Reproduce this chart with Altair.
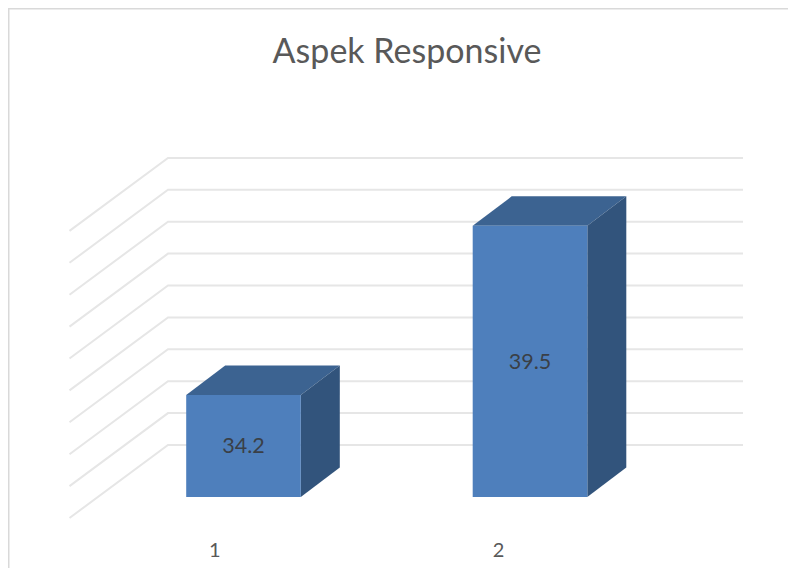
import altair as alt
import pandas as pd

TITLE = "Aspek Responsive"
categories = [1, 2]
values = [34.2, 39.5]
category_label_pos = [0.9, 1.89]
grid_values = [31, 32, 33, 34, 35, 36, 37, 38, 39, 40]
base_value = 31

# scale set-up: one category = 286.5 px, one value unit = 31.9 px
W, H = 780, 560
PX_X, PX_Y = 286.5, 31.9
x_min = 1 - 235.5 / PX_X
x_max = x_min + W / PX_X
y_min = base_value - (H - 489) / PX_Y
y_max = y_min + H / PX_Y
half = 0.2              # half bar width, category units
depth_x, depth_y = 39 / PX_X, 29.5 / PX_Y   # bar depth
wall_left, wall_right, floor_left = 0.7365, 2.7435, 0.3927
wall_up, floor_down = 52 / PX_Y, 21 / PX_Y
label_y = base_value - 53.5 / PX_Y
value_label_nudge = -1.5 / PX_Y

x_s = alt.Scale(domain=[x_min, x_max], range=[0, W], nice=False, zero=False)
y_s = alt.Scale(domain=[y_min, y_max], range=[H, 0], nice=False, zero=False)
X = alt.X("x:Q", scale=x_s, axis=None)
Y = alt.Y("y:Q", scale=y_s, axis=None)

grid_rows = []
for v in grid_values:
    grid_rows += [
        {"g": v, "o": 0, "x": floor_left, "y": v - floor_down},
        {"g": v, "o": 1, "x": wall_left, "y": v + wall_up},
        {"g": v, "o": 2, "x": wall_right, "y": v + wall_up},
    ]
grid = alt.Chart(pd.DataFrame(grid_rows)).mark_line(
    color="#e6e6e6", strokeWidth=2
).encode(x=X, y=Y, detail="g:N", order="o:Q")

border_left = alt.Chart(pd.DataFrame({"x": [x_min, x_min], "y": [y_min, y_max], "o": [0, 1]})).mark_line(
    color="#d9d9d9", strokeWidth=3).encode(x=X, y=Y, order="o:Q")
border_top = alt.Chart(pd.DataFrame({"x": [x_min, x_max], "y": [y_max, y_max], "o": [0, 1]})).mark_line(
    color="#d9d9d9", strokeWidth=3).encode(x=X, y=Y, order="o:Q")

front_rows, top_rows, side_rows, text_rows, cat_rows = [], [], [], [], []
for c, v, lp in zip(categories, values, category_label_pos):
    front_rows.append({"x": c - half, "x2": c + half, "y": v, "y2": base_value})
    l, r = c - half, c + half
    top_rows += [
        {"c": c, "x": l, "y": v, "y2": v},
        {"c": c, "x": l + depth_x, "y": v + depth_y, "y2": v},
        {"c": c, "x": r, "y": v + depth_y, "y2": v},
        {"c": c, "x": r + depth_x, "y": v + depth_y, "y2": v + depth_y},
    ]
    side_rows += [
        {"c": c, "x": r, "y": v, "y2": base_value},
        {"c": c, "x": r + depth_x, "y": v + depth_y, "y2": base_value + depth_y},
    ]
    text_rows.append({"x": c, "y": (v + base_value) / 2 + value_label_nudge, "t": f"{v:.1f}"})
    cat_rows.append({"x": lp, "y": label_y, "t": str(c)})

front = alt.Chart(pd.DataFrame(front_rows)).mark_rect(color="#4e7fbc").encode(
    x=X, x2="x2:Q", y=Y, y2="y2:Q")
top = alt.Chart(pd.DataFrame(top_rows)).mark_area(color="#3c6391", opacity=1, orient="vertical").encode(
    x=X, y=Y, y2="y2", detail="c:N")
side = alt.Chart(pd.DataFrame(side_rows)).mark_area(color="#32547c", opacity=1, orient="vertical").encode(
    x=X, y=Y, y2="y2", detail="c:N")
val_text = alt.Chart(pd.DataFrame(text_rows)).mark_text(
    font="Lato", fontSize=21.5, color="#3a3f47", align="center", baseline="middle"
).encode(x=X, y=Y, text="t:N")
cat_text = alt.Chart(pd.DataFrame(cat_rows)).mark_text(
    font="Lato", fontSize=20, color="#595959", align="center", baseline="middle"
).encode(x=X, y=Y, text="t:N")

chart = alt.layer(border_left, border_top, grid, top, side, front, val_text, cat_text).properties(
    width=W, height=H,
    title=alt.TitleParams(TITLE, font="Lato", fontSize=34, fontWeight="normal", color="#595959",
                          anchor="middle", dx=399 - W / 2, dy=72),
    padding=0,
    autosize=alt.AutoSizeParams(type="none"),
).configure_view(stroke=None)

chart.save("out.html", embed_options={"renderer": "svg", "actions": False})
